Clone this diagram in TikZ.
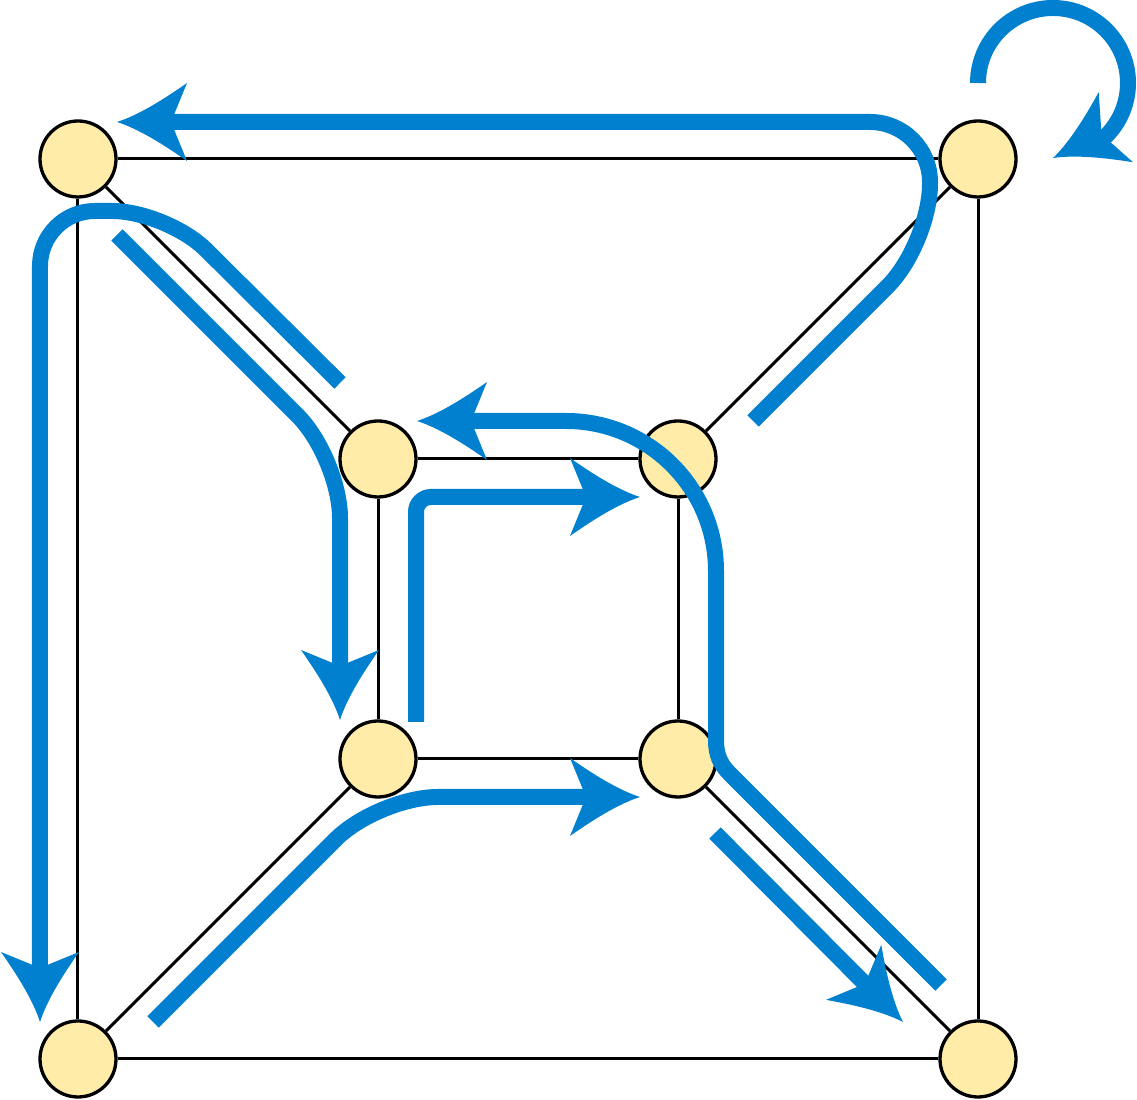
\documentclass[tikz,border=0pt]{standalone}
\usepackage{tikz}
\usetikzlibrary{arrows.meta,bending}

\definecolor{walkblue}{RGB}{0,128,206}
\definecolor{vertexyellow}{RGB}{255,236,168}
\pgfdeclarelayer{back}
\pgfsetlayers{back,main}

\pgfdeclarearrow{
  name = Swept Dart,
  parameters = {\the\pgfarrowlength,\the\pgfarrowwidth,\the\pgfarrowinset},
  setup code = {
    \pgfarrowssettipend{\pgfarrowlength}
    \pgfarrowssetbackend{0pt}
    \pgfarrowssetlineend{\pgfarrowinset}
    \pgfarrowssavethe\pgfarrowlength
    \pgfarrowssavethe\pgfarrowwidth
    \pgfarrowssavethe\pgfarrowinset
  },
  drawing code = {
    \pgfpathmoveto{\pgfpoint{\pgfarrowlength}{0pt}}
    \pgfpathcurveto{\pgfpoint{0.72\pgfarrowlength}{0.08\pgfarrowwidth}}{\pgfpoint{0.38\pgfarrowlength}{0.26\pgfarrowwidth}}{\pgfpoint{0pt}{0.5\pgfarrowwidth}}
    \pgfpathlineto{\pgfpoint{\pgfarrowinset}{0pt}}
    \pgfpathlineto{\pgfpoint{0pt}{-0.5\pgfarrowwidth}}
    \pgfpathcurveto{\pgfpoint{0.38\pgfarrowlength}{-0.26\pgfarrowwidth}}{\pgfpoint{0.72\pgfarrowlength}{-0.08\pgfarrowwidth}}{\pgfpoint{\pgfarrowlength}{0pt}}
    \pgfpathclose
    \pgfusepathqfill
  },
  defaults = {length=7mm, width=7.8mm, inset=1.6mm}
}

\begin{document}
\begin{tikzpicture}[vertex/.style={circle, draw=black, fill=vertexyellow, line width=0.33mm, minimum size=7.6mm, inner sep=0pt},
        link/.style={line width=0.3mm},
        walk/.style={draw=walkblue, line width=1.6mm},
        walkarrow/.style={-{Swept Dart[flex]}}]
                \useasboundingbox (-0.78,-0.41) rectangle (10.59,10.59);

                \node[vertex] (BL) at (0,0) {};
                \node[vertex] (BR) at (9,0) {};
                \node[vertex] (TL) at (0,9) {};
                \node[vertex] (TR) at (9,9) {};
                \node[vertex] (IBL) at (3,3) {};
                \node[vertex] (IBR) at (6,3) {};
                \node[vertex] (ITL) at (3,6) {};
                \node[vertex] (ITR) at (6,6) {};

                \begin{pgfonlayer}{back}
                \foreach \a/\b in {BL/BR, BR/TR, TR/TL, TL/BL, IBL/IBR, IBR/ITR, ITR/ITL, ITL/IBL, BL/IBL, BR/IBR, TR/ITR, TL/ITL}
                    \draw[link] (\a) -- (\b);

                \draw[walk, walkarrow] (9,9.76) arc[start angle=180, end angle=-90, radius=0.75];
                \draw[walk, walkarrow, rounded corners=6mm] (6.75,6.38) -- (8.52,8.15) -- (8.52,9.37) -- (0.39,9.37);
                \draw[walk, walkarrow, rounded corners=5.5mm] (2.62,6.76) -- (0.89,8.48) -- (-0.38,8.48) -- (-0.38,0.37);
                \draw[walk, walkarrow, rounded corners=6mm] (0.39,8.24) -- (2.62,6.01) -- (2.62,3.39);
                \draw[walk, walkarrow, rounded corners=1.5mm] (3.38,3.37) -- (3.38,5.62) -- (5.62,5.62);
                \draw[walk, walkarrow, rounded corners=6mm] (0.75,0.37) -- (3,2.62) -- (5.62,2.62);
                \draw[walk, walkarrow] (6.37,2.26) -- (8.25,0.37);
                \end{pgfonlayer}

                \draw[walk, walkarrow] (8.63,0.74) -- (6.52,2.85) to[out=135, in=-90] (6.38,3.19) -- (6.38,4.88) arc[start angle=0, end angle=90, radius=1.5] -- (3.39,6.38);
\end{tikzpicture}
\end{document}
